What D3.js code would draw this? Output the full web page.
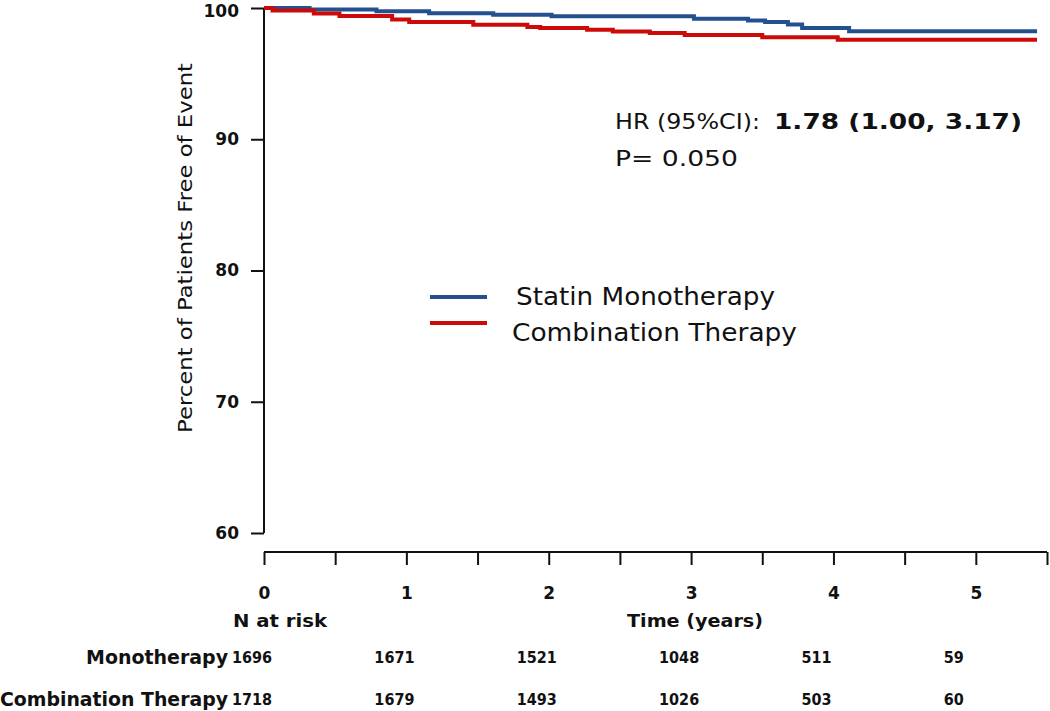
<!DOCTYPE html>
<html>
<head>
<meta charset="utf-8">
<script src="https://cdn.jsdelivr.net/npm/d3@7"></script>
<style>
  html, body { margin: 0; padding: 0; background: #fff; }
  svg { display: block; }
  text { font-family: "DejaVu Sans", Verdana, sans-serif; fill: #111; }
</style>
</head>
<body>
<svg id="chart" width="1050" height="711"></svg>
<script>
// ---- data ----
const seriesNames = ["Statin Monotherapy", "Combination Therapy"];
const monoTime = [0, 0.32, 0.79, 1.16, 1.61, 2.02, 3.02, 3.40, 3.52, 3.68, 3.78, 4.11, 5.43];
const monoSurv = [100, 99.89, 99.75, 99.60, 99.49, 99.37, 99.19, 99.04, 98.94, 98.75, 98.48, 98.23, 98.23];
const comboTime = [0, 0.06, 0.35, 0.53, 0.90, 1.02, 1.47, 1.85, 1.94, 2.27, 2.45, 2.71, 2.955, 3.50, 4.03, 5.43];
const comboSurv = [100, 99.81, 99.58, 99.39, 99.13, 98.94, 98.73, 98.56, 98.48, 98.35, 98.21, 98.10, 97.95, 97.77, 97.59, 97.59];
const yTicks = [60, 70, 80, 90, 100];
const xTicks = [0, 0.5, 1, 1.5, 2, 2.5, 3, 3.5, 4, 4.5, 5, 5.5];
const xLabelTicks = [0, 1, 2, 3, 4, 5];
const riskTimes = [0, 1, 2, 3, 4, 5];
const riskRowLabels = ["Monotherapy", "Combination Therapy"];
const riskMono = [1696, 1671, 1521, 1048, 511, 59];
const riskCombo = [1718, 1679, 1493, 1026, 503, 60];
const hrLabel = "HR  (95%CI):";
const hrValue = "1.78 (1.00, 3.17)";
const pLabel = "P= 0.050";
const colors = ["#24508f", "#cc0a0a"];

// ---- layout ----
const svg = d3.select("#chart");
const x = d3.scaleLinear().domain([0, 5.5]).range([264, 1047]);
const y = d3.scaleLinear().domain([60, 100]).range([533, 8]);
const xAxisY = 552;

// y axis
const yAxis = svg.append("g").attr("transform", `translate(${x(0)},0)`)
  .call(d3.axisLeft(y).tickValues(yTicks).tickSize(13).tickPadding(12).tickFormat(d3.format("d")));
yAxis.select(".domain").attr("d", `M0,${y(100)}V${y(60)}`).attr("stroke", "#111").attr("stroke-width", 2);
yAxis.selectAll(".tick line").attr("stroke", "#111").attr("stroke-width", 2);
yAxis.selectAll(".tick text").style("font-family", "DejaVu Sans").style("font-size", "17px")
  .style("font-weight", "bold").attr("fill", "#111")
  .attr("dy", d => d === 100 ? "0.5em" : "0.32em");

// x axis
const xAxis = svg.append("g").attr("transform", `translate(0,${xAxisY})`)
  .call(d3.axisBottom(x).tickValues(xTicks).tickSize(13).tickPadding(22)
    .tickFormat(d => xLabelTicks.includes(d) ? d3.format("d")(d) : ""));
xAxis.select(".domain").attr("d", `M${x(0)},0H${x(5.5)}`).attr("stroke", "#111").attr("stroke-width", 2);
xAxis.selectAll(".tick line").attr("stroke", "#111").attr("stroke-width", 2);
xAxis.selectAll(".tick text").style("font-family", "DejaVu Sans").style("font-size", "17px")
  .style("font-weight", "bold").attr("fill", "#111");

// y label
svg.append("text")
  .attr("transform", `translate(192,248) rotate(-90)`)
  .attr("text-anchor", "middle")
  .style("font-size", "20px")
  .attr("textLength", 370).attr("lengthAdjust", "spacingAndGlyphs")
  .text("Percent of Patients Free of Event");

// curves
const line = d3.line().x(d => x(d[0])).y(d => y(d[1])).curve(d3.curveStepAfter);
const monoData = monoTime.map((t, i) => [t, monoSurv[i]]);
const comboData = comboTime.map((t, i) => [t, comboSurv[i]]);
[monoData, comboData].forEach((data, i) => {
  svg.append("path").datum(data).attr("d", line)
    .attr("fill", "none").attr("stroke", colors[i]).attr("stroke-width", 4);
});

// annotation
svg.append("text").attr("x", 615).attr("y", 129).style("font-size", "22px")
  .attr("textLength", 145).attr("lengthAdjust", "spacingAndGlyphs").text(hrLabel);
svg.append("text").attr("x", 774).attr("y", 129).style("font-size", "22px").style("font-weight", "bold")
  .attr("textLength", 248).attr("lengthAdjust", "spacingAndGlyphs").text(hrValue);
svg.append("text").attr("x", 615).attr("y", 166).style("font-size", "22px")
  .attr("textLength", 123).attr("lengthAdjust", "spacingAndGlyphs").text(pLabel);

// legend
const legY = [297, 323];
const legTextX = [516, 512];
const legTextY = [305, 341];
const legW = [259, 285];
seriesNames.forEach((name, i) => {
  svg.append("line").attr("x1", 430).attr("x2", 487).attr("y1", legY[i]).attr("y2", legY[i])
    .attr("stroke", colors[i]).attr("stroke-width", 4);
  svg.append("text").attr("x", legTextX[i]).attr("y", legTextY[i]).style("font-size", "24px")
    .attr("textLength", legW[i]).attr("lengthAdjust", "spacingAndGlyphs").text(name);
});

// N at risk + Time label
svg.append("text").attr("x", 233).attr("y", 627).style("font-size", "18px").style("font-weight", "bold")
  .attr("textLength", 94).attr("lengthAdjust", "spacingAndGlyphs").text("N at risk");
svg.append("text").attr("x", 627).attr("y", 627).style("font-size", "18px").style("font-weight", "bold")
  .attr("textLength", 136).attr("lengthAdjust", "spacingAndGlyphs").text("Time (years)");

// risk table
const rowY = [664, 706];
const rowW = [142, 228];
[riskMono, riskCombo].forEach((vals, r) => {
  svg.append("text").attr("x", x(0) - 36).attr("y", rowY[r]).attr("text-anchor", "end")
    .style("font-size", "19px").style("font-weight", "bold")
    .attr("textLength", rowW[r]).attr("lengthAdjust", "spacingAndGlyphs").text(riskRowLabels[r]);
  svg.append("g").selectAll("text").data(vals).join("text")
    .attr("x", (d, i) => x(riskTimes[i]) - 32).attr("y", rowY[r] - 1)
    .style("font-family", "'DejaVu Sans Condensed', 'DejaVu Sans'")
    .style("font-stretch", "condensed")
    .style("font-size", "16px").style("font-weight", "bold").text(d => d);
});
</script>
</body>
</html>
